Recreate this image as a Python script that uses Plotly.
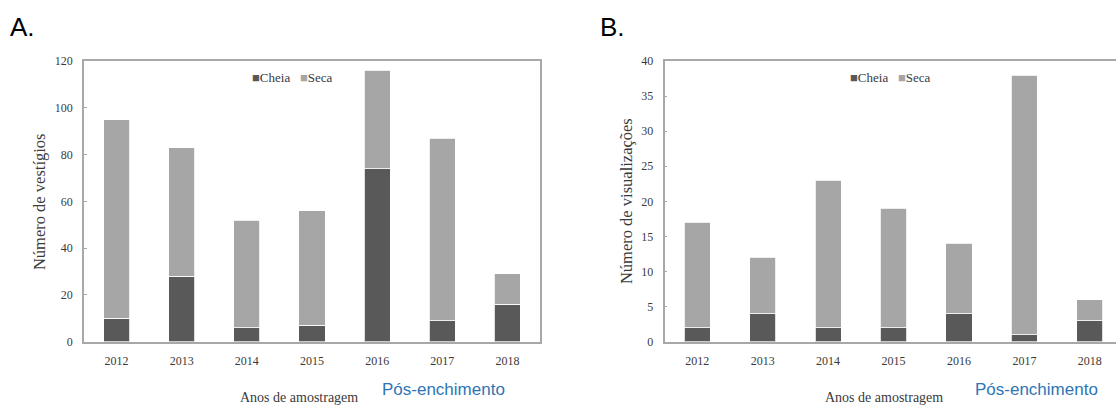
import plotly.graph_objects as go

# ---------------- data ----------------
years = ["2012", "2013", "2014", "2015", "2016", "2017", "2018"]
series_names = ["Cheia", "Seca"]
series_colors = ["#595959", "#A6A6A6"]

# Panel A: Número de vestígios
vestigios_cheia = [10, 28, 6, 7, 74, 9, 16]
vestigios_seca = [85, 55, 46, 49, 42, 78, 13]

# Panel B: Número de visualizações
visual_cheia = [2, 4, 2, 2, 4, 1, 3]
visual_seca = [15, 8, 21, 17, 10, 37, 3]

yticks_a = [0, 20, 40, 60, 80, 100, 120]
yticks_b = [0, 5, 10, 15, 20, 25, 30, 35, 40]

W, H = 1116, 407
def px(x):
    return x / W
def py(y):
    return (H - y) / H

SERIF = "Liberation Serif, Times New Roman, serif"
TXT = "#3a3a3a"
AXC = "#A8A8A8"

fig = go.Figure()

for name, col, vals in zip(series_names, series_colors, [vestigios_cheia, vestigios_seca]):
    fig.add_trace(go.Bar(x=years, y=vals, name=name, marker_color=col,
                         marker_line=dict(color="white", width=0.8),
                         width=0.4, xaxis="x", yaxis="y", showlegend=False))
for name, col, vals in zip(series_names, series_colors, [visual_cheia, visual_seca]):
    fig.add_trace(go.Bar(x=years, y=vals, name=name, marker_color=col,
                         marker_line=dict(color="white", width=0.8),
                         width=0.4, xaxis="x2", yaxis="y2", showlegend=False))

ydom = [py(346.5), py(56)]
common_x = dict(type="category", showline=True, linecolor=AXC, linewidth=1.5,
                ticks="", showgrid=False, zeroline=False,
                tickfont=dict(family=SERIF, size=12, color=TXT), ticklabelstandoff=7)
common_y = dict(showline=True, linecolor=AXC, linewidth=1.5, ticks="inside",
                ticklen=3, tickcolor=AXC, showgrid=False, zeroline=False,
                tickfont=dict(family=SERIF, size=12, color=TXT), ticklabelstandoff=7)

fig.update_layout(
    width=W, height=H, margin=dict(l=0, r=0, t=0, b=0),
    paper_bgcolor="white", plot_bgcolor="white", barmode="stack",
    showlegend=False,
    xaxis=dict(domain=[px(84), px(540)], anchor="y", range=[-0.5, 6.5], mirror=True, **common_x),
    yaxis=dict(domain=ydom, anchor="x", range=[0, 120], tickvals=yticks_a, mirror=True, **common_y),
    xaxis2=dict(domain=[px(664.5), 1.0], anchor="y2", range=[-0.5, 6.4], mirror=True, **common_x),
    yaxis2=dict(domain=ydom, anchor="x2", range=[0, 40], tickvals=yticks_b, mirror=False, **common_y),
)

ann = []
# panel letters
ann.append(dict(text="A.", x=px(8), y=py(21), xref="paper", yref="paper", xanchor="left",
                yanchor="middle", showarrow=False, font=dict(family="Liberation Sans, Arial", size=26, color="black")))
ann.append(dict(text="B.", x=px(598), y=py(21), xref="paper", yref="paper", xanchor="left",
                yanchor="middle", showarrow=False, font=dict(family="Liberation Sans, Arial", size=26, color="black")))
# axis titles
for cx, t in [(299, "Anos de amostragem"), (884, "Anos de amostragem")]:
    ann.append(dict(text=t, x=px(cx), y=py(404), xref="paper", yref="paper", xanchor="center",
                    yanchor="middle", showarrow=False, font=dict(family=SERIF, size=14, color=TXT)))
for cx, t in [(39, "Número de vestígios"), (626, "Número de visualizações")]:
    ann.append(dict(text=t, x=px(cx), y=py(201), xref="paper", yref="paper", xanchor="center",
                    yanchor="middle", showarrow=False, textangle=-90,
                    font=dict(family=SERIF, size=16.5, color=TXT)))
# Pós-enchimento
for lx in [380, 973]:
    ann.append(dict(text="Pós-enchimento", x=px(lx), y=py(396), xref="paper", yref="paper",
                    xanchor="left", yanchor="middle", showarrow=False,
                    font=dict(family="Liberation Sans, Arial", size=17, color="#2E75B6")))
# legends (built from series names/colors)
for cx in [292, 890]:
    parts = []
    for name, col in zip(series_names, series_colors):
        parts.append(f'<span style="color:{col}">■</span>{name}')
    ann.append(dict(text="   ".join(parts), x=px(cx), y=py(73), xref="paper", yref="paper",
                    xanchor="center", yanchor="middle", showarrow=False,
                    font=dict(family=SERIF, size=13, color=TXT)))

fig.update_layout(annotations=ann)
fig.write_html("out.html", config={"displayModeBar": False},
               post_script="document.body.style.margin='0';document.body.style.overflow='hidden';")
